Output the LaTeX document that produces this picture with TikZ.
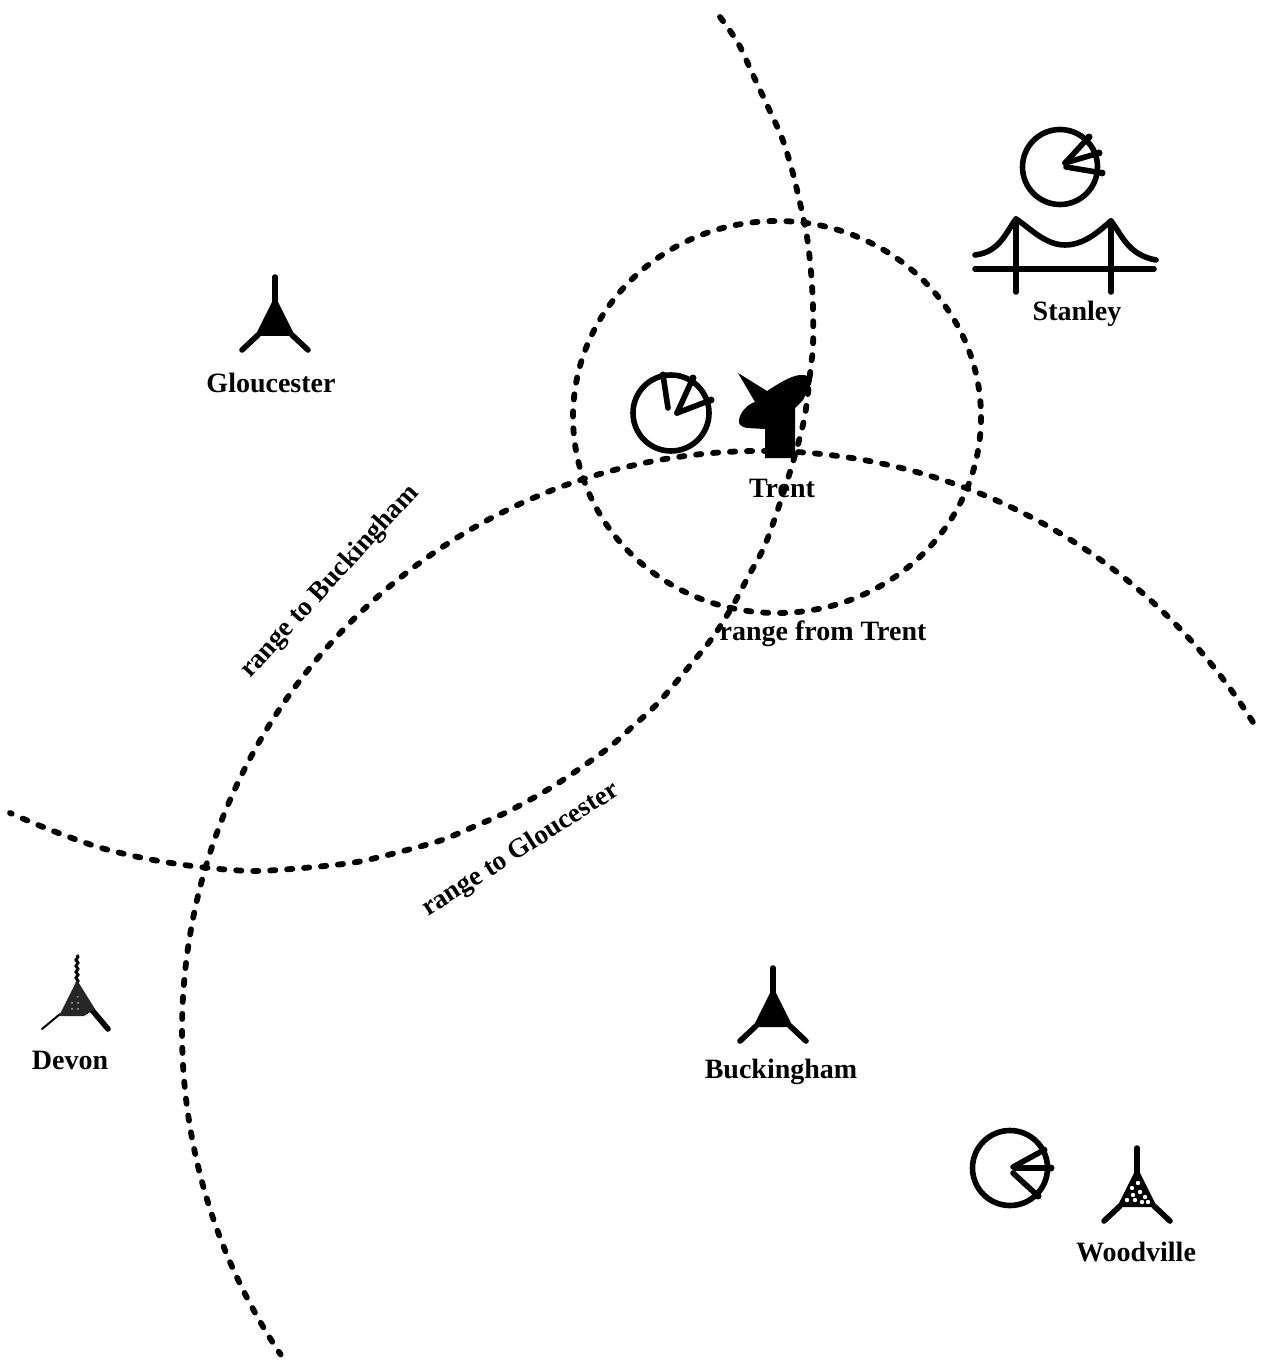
\documentclass[tikz,border=0pt]{standalone}
\usepackage{fontspec}
\setmainfont{Liberation Serif}
\usetikzlibrary{calc,patterns,decorations.pathmorphing}
\tikzset{
  rng/.style={line width=2.9pt,line cap=round,dash pattern=on 2.6pt off 5.9pt},
  sym/.style={line width=2.8pt,line cap=round,line join=round},
  place/.style={font=\fontsize{14}{15}\selectfont\bfseries,inner sep=0pt},
  rlabel/.style={font=\fontsize{13.6}{15}\selectfont\bfseries,inner sep=0pt},
  pics/tower/.style={code={
    \draw[sym] (0,0)--(0,25);
    \draw[sym] (-17,58)--(-33,73) (17,58)--(33,73);
    \fill (-2,23)--(-20,59)--(20,59)--(2,23)--cycle;
  }},
}
\begin{document}
\begin{tikzpicture}[x=0.5pt,y=-0.5pt]
\useasboundingbox (0,0) rectangle (1263,1363);
\coordinate (cbuck) at (762,1031);
\coordinate (ctrent) at (777,417);
% range circles
\draw[rng] plot[smooth] coordinates {(720,17) (738,43) (753,75) (768,107) (782,138)
  (792,170) (800,203) (807,237) (811,272) (813,307) (813,347) (811,365) (805,415)
  (795,455) (782,497) (765,545) (748,577) (732,607) (713,637) (692,663) (658,703)
  (632,727) (607,749) (563,780) (535,797) (505,813) (473,827) (442,840) (407,850)
  (357,862) (303,868) (252,871) (200,867) (148,859) (98,847) (48,829) (10,813)};
\draw[rng] ($(cbuck)+(-32.2:580)$) arc[start angle=-32.2,end angle=-213.9,radius=580];
\draw[rng] (ctrent) ellipse[x radius=204,y radius=196];
% stations
\pic at (275,277) {tower};
\pic at (773,968) {tower};
\pic at (1137,1148) {tower};
\foreach \dx/\dy in {1138/1183,1132/1188,1140/1192,1133/1195,1145/1197,1127/1200,1135/1200,1142/1202,1148/1202}
  \fill[white] (\dx,\dy) circle[radius=2.2];
% Devon
\draw[line width=1.5pt,decorate,decoration={snake,amplitude=0.5pt,segment length=3pt}] (77,955)--(77,984);
\draw[line width=1pt,line cap=round] (60,1014)--(42,1029);
\draw[sym] (92,1010)--(108,1029);
\fill[black!85] (77,980)--(59,1016)--(84,1016)--(95,1009)--cycle;
\fill[pattern=dots,pattern color=white!70!black] (77,992)--(64,1014)--(84,1014)--cycle;
% dish at Trent
\fill (738,373)--(767,391) .. controls (778,384) and (790,376) .. (800,375)
  .. controls (806,375) and (812,376) .. (812,380)--(811,384)--(807,392)--(803,400)--(795,408)
  --(795,458)--(765,458)--(765,429)--(747,428)
  .. controls (741,427) and (738,424) .. (739,420)
  .. controls (740,412) and (748,404) .. (755,402)--cycle;
% bridge at Stanley
\draw[sym] (1016,219)--(1016,292);
\draw[sym] (1111,221)--(1111,292);
\draw[sym] (975,269)--(1154,269);
\draw[sym] (975,255) .. controls (1000,252) and (1006,232) .. (1016,219)
  .. controls (1030,228) and (1045,245) .. (1065,245)
  .. controls (1085,245) and (1100,230) .. (1111,221)
  .. controls (1122,235) and (1128,255) .. (1156,260);
% radar sweeps
\draw[sym] (671,413) circle[radius=38];
\foreach \ax/\ay/\bx/\by in {668/408/663/375,677/413/693/378,677/413/711/400}{
  \draw[sym] (\ax,\ay)--(\bx,\by);
  \fill (\bx,\by) circle[radius=3.5];
}
\draw[sym] (1060,167) circle[radius=37.5];
\foreach \ax/\ay/\bx/\by in {1065/163/1089/137,1065/163/1099/153,1066/167/1102/173}{
  \draw[sym] (\ax,\ay)--(\bx,\by);
  \fill (\bx,\by) circle[radius=3.5];
}
\draw[sym] (1010,1168) circle[radius=37.5];
\foreach \ax/\ay/\bx/\by in {1013/1167/1044/1150,1015/1168/1051/1168,1013/1173/1038/1196}{
  \draw[sym] (\ax,\ay)--(\bx,\by);
  \fill (\bx,\by) circle[radius=3.5];
}
% labels
\node[place] (glou) at (271,383) {Gloucester};
\node[place] (trent) at (782,488) {Trent};
\node[place] (stan) at (1077,314) {Stanley};
\node[place] (buck) at (781,1072) {Buckingham};
\node[place] (devon) at (70,1060) {Devon};
\node[place] (wood) at (1136,1252) {Woodville};
\node[place] (rtrent) at (823,634) {range from Trent};
\node[rlabel,rotate=47.6] (rbuck) at (330,582) {range to Buckingham};
\node[rlabel,rotate=32.5] (rglou) at (521,850) {range to Gloucester};
\end{tikzpicture}
\end{document}
